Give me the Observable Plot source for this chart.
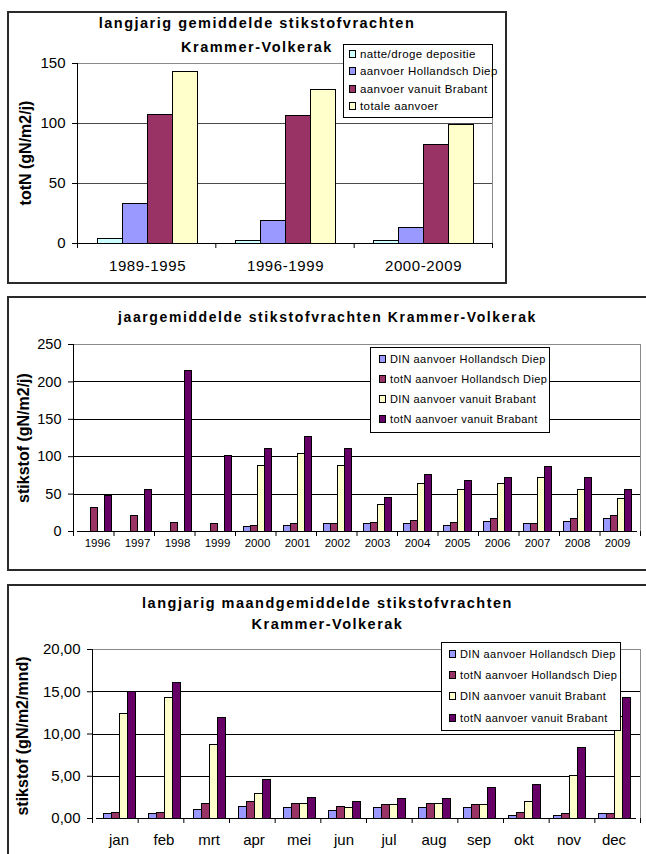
<!DOCTYPE html>
<html><head><meta charset="utf-8">
<script src="https://cdn.jsdelivr.net/npm/d3@7"></script>
<script src="https://cdn.jsdelivr.net/npm/@observablehq/plot@0.6"></script>
<style>
body{margin:0;background:#fff;width:646px;height:854px;overflow:hidden;position:relative;font-family:"Liberation Sans",Arial,sans-serif;color:#000;}
.abs{position:absolute;}
.box{position:absolute;border:2px solid #2a2a2a;box-sizing:border-box;}
.title{position:absolute;font-weight:bold;text-align:center;white-space:nowrap;}
.ylab{position:absolute;font-weight:bold;font-size:16px;white-space:nowrap;transform:translate(-50%,-50%) rotate(-90deg);}
.legend{position:absolute;border:1px solid #000;background:#fff;box-sizing:border-box;}
.legend .item{display:flex;align-items:center;white-space:nowrap;}
.sw{width:5px;height:6px;border:1px solid #000;margin-right:4px;flex:none;}
</style></head><body><div id="root"></div><script>
// ---------- panel 1 ----------
const periods = ["1989-1995", "1996-1999", "2000-2009"];
const seriesA = ["natte/droge depositie", "aanvoer Hollandsch Diep", "aanvoer vanuit Brabant", "totale aanvoer"];
const colorsA = ["#ccffff", "#9999ff", "#993366", "#ffffcc"];
const depositie = [4, 2.5, 2.5];
const aanvoerHollandschDiep = [33, 19, 13];
const aanvoerBrabant = [107, 106, 82];
const totaleAanvoer = [143, 128, 99];
const ticksA = [0, 50, 100, 150];

// ---------- panel 2 ----------
const years = ["1996","1997","1998","1999","2000","2001","2002","2003","2004","2005","2006","2007","2008","2009"];
const seriesB = ["DIN aanvoer Hollandsch Diep", "totN aanvoer Hollandsch Diep", "DIN aanvoer vanuit Brabant", "totN aanvoer vanuit Brabant"];
const colorsB = ["#9999ff", "#993366", "#ffffcc", "#660066"];
const dinHollandschDiepJaar = [null, null, null, null, 6, 8, 10, 10, 10, 7, 13, 10, 13, 17];
const totNHollandschDiepJaar = [31, 21, 12, 10, 8, 10, 10, 12, 13.5, 12, 17, 10, 17, 21];
const dinBrabantJaar = [null, null, null, null, 88, 104, 88, 35, 64, 56, 63, 71, 56, 44];
const totNBrabantJaar = [47, 56, 215, 101, 110, 126, 110, 45, 75, 67, 72, 86, 71, 56];
const ticksB = [0, 50, 100, 150, 200, 250];

// ---------- panel 3 ----------
const months = ["jan","feb","mrt","apr","mei","jun","jul","aug","sep","okt","nov","dec"];
const dinHollandschDiepMaand = [0.5, 0.5, 1.05, 1.38, 1.22, 0.9, 1.2, 1.2, 1.2, 0.3, 0.3, 0.5];
const totNHollandschDiepMaand = [0.7, 0.7, 1.7, 1.9, 1.7, 1.4, 1.55, 1.7, 1.55, 0.7, 0.5, 0.5];
const dinBrabantMaand = [12.35, 14.25, 8.7, 2.95, 1.7, 1.2, 1.55, 1.7, 1.55, 1.9, 5.0, 12.0];
const totNBrabantMaand = [14.95, 16.0, 11.85, 4.5, 2.45, 1.9, 2.25, 2.25, 3.65, 4.0, 8.4, 14.25];
const ticksC = [0, 5, 10, 15, 20];

const FONT = "'Liberation Sans', Arial, sans-serif";
const root = document.getElementById("root");

function el(tag, cls, css, html) {
  const e = document.createElement(tag);
  if (cls) e.className = cls;
  Object.assign(e.style, css || {});
  if (html != null) e.innerHTML = html;
  root.appendChild(e);
  return e;
}

function panel(o) {
  const data = [];
  o.cats.forEach((c, i) => o.series.forEach((s, j) => data.push({cat: c, series: s, value: o.values[j][i]})));
  const n = o.cats.length;
  const ymax = o.yTicks[o.yTicks.length - 1];
  // frame box
  el("div", "box", {left: o.left + "px", top: o.top + "px", width: o.width + "px", height: o.height + "px"});
  const common = {
    width: o.width, height: o.height,
    marginLeft: o.m[0], marginRight: o.m[1], marginTop: o.m[2], marginBottom: o.m[3]
  };
  const under = Plot.plot({
    ...common,
    style: {background: "transparent", fontFamily: FONT, fontSize: o.tickFont + "px", overflow: "visible", color: "#000"},
    x: {domain: [0, n], ticks: d3.range(n + 1), tickSize: 5, tickFormat: () => "", label: null},
    y: {domain: [0, ymax], ticks: o.yTicks, tickSize: 5, tickPadding: 7, tickFormat: o.yFmt, label: null},
    marks: [
      Plot.ruleY(o.yTicks.slice(1, -1), {stroke: o.grid, shapeRendering: "crispEdges"}),
      Plot.ruleY([ymax], {stroke: "#8a8a8a", shapeRendering: "crispEdges"}),
      Plot.ruleX([n], {stroke: "#8a8a8a", shapeRendering: "crispEdges"}),
      Plot.ruleX([0], {stroke: "#000", shapeRendering: "crispEdges"})
    ]
  });
  const bars = Plot.plot({
    ...common,
    style: {background: "transparent", fontFamily: FONT, fontSize: o.catFont + "px", letterSpacing: o.catLS + "px", overflow: "visible", color: "#000"},
    facet: {data, x: "cat"},
    fx: {domain: o.cats, padding: 0, label: null, axis: "bottom", tickSize: 0, tickPadding: o.catPad},
    x: {domain: o.series, paddingInner: 0, paddingOuter: o.po, axis: null},
    y: {domain: [0, ymax], axis: null},
    color: {domain: o.series, range: o.colors},
    marks: [
      Plot.barY(data, {x: "series", y: "value", fill: "series", stroke: "#000", strokeWidth: 1, shapeRendering: "crispEdges"}),
      Plot.ruleY([0], {stroke: "#000", shapeRendering: "crispEdges"})
    ]
  });
  for (const svg of [under, bars]) {
    const wrap = el("div", "abs", {left: o.left + "px", top: o.top + "px", width: o.width + "px", height: o.height + "px"});
    wrap.appendChild(svg);
  }
  // title
  el("div", "title", {left: o.left + "px", width: o.width + "px", top: o.titleTop + "px",
    fontSize: o.titleFont + "px", lineHeight: o.titleLH + "px", letterSpacing: o.titleLS + "px"}, o.title);
  // y label
  el("div", "ylab", {left: o.ylab[0] + "px", top: o.ylab[1] + "px"}, o.ylabel);
  // legend
  const lg = el("div", "legend", {left: o.lg[0] + "px", top: o.lg[1] + "px", width: o.lg[2] + "px", height: o.lg[3] + "px",
    paddingLeft: o.lgPad[0] + "px", paddingTop: o.lgPad[1] + "px"});
  o.series.forEach((s, j) => {
    const it = document.createElement("div");
    it.className = "item";
    Object.assign(it.style, {height: o.lgLH + "px", fontSize: o.lgFont + "px", letterSpacing: o.lgLS + "px"});
    const sw = document.createElement("span");
    sw.className = "sw";
    sw.style.background = o.colors[j];
    const tx = document.createElement("span");
    tx.textContent = s;
    it.appendChild(sw); it.appendChild(tx);
    lg.appendChild(it);
  });
}

panel({
  left: 7, top: 11, width: 500, height: 273, m: [70, 15, 52, 41],
  cats: periods, series: seriesA, colors: colorsA,
  values: [depositie, aanvoerHollandschDiep, aanvoerBrabant, totaleAanvoer],
  yTicks: ticksA, yFmt: d => String(d), tickFont: 15, grid: "#4a4a4a",
  catFont: 15, catLS: 0.6, catPad: 17, po: 0.76,
  title: "langjarig gemiddelde stikstofvrachten<br>Krammer-Volkerak", titleTop: 11, titleFont: 14.5, titleLH: 24, titleLS: 1.5,
  ylabel: "totN (gN/m2/j)", ylab: [26, 153],
  lg: [343, 44, 150, 74], lgPad: [5, 0], lgLH: 17.5, lgFont: 11.5, lgLS: 0.4
});

panel({
  left: 7, top: 296, width: 641, height: 275, m: [66, 8, 48, 40],
  cats: years, series: seriesB, colors: colorsB,
  values: [dinHollandschDiepJaar, totNHollandschDiepJaar, dinBrabantJaar, totNBrabantJaar],
  yTicks: ticksB, yFmt: d => String(d), tickFont: 14.5, grid: "#000",
  catFont: 11.5, catLS: 0, catPad: 7, po: 0.53,
  title: "jaargemiddelde stikstofvrachten Krammer-Volkerak", titleTop: 305, titleFont: 14, titleLH: 24, titleLS: 1.6,
  ylabel: "stikstof (gN/m2/j)", ylab: [24, 438],
  lg: [370, 347, 180, 86], lgPad: [8, 1], lgLH: 20, lgFont: 11, lgLS: 0.4
});

panel({
  left: 7, top: 584, width: 641, height: 275, m: [85, 8, 65, 41],
  cats: months, series: seriesB, colors: colorsB,
  values: [dinHollandschDiepMaand, totNHollandschDiepMaand, dinBrabantMaand, totNBrabantMaand],
  yTicks: ticksC, yFmt: d => d.toFixed(2).replace(".", ","), tickFont: 15, grid: "#000",
  catFont: 15, catLS: 0, catPad: 16, po: 0.7,
  title: "langjarig maandgemiddelde stikstofvrachten<br>Krammer-Volkerak", titleTop: 593, titleFont: 14.5, titleLH: 21, titleLS: 1.5,
  ylabel: "stikstof (gN/m2/mnd)", ylab: [23, 736],
  lg: [441, 642, 180, 89], lgPad: [7, 0], lgLH: 21.3, lgFont: 11, lgLS: 0.4
});
</script></body></html>
